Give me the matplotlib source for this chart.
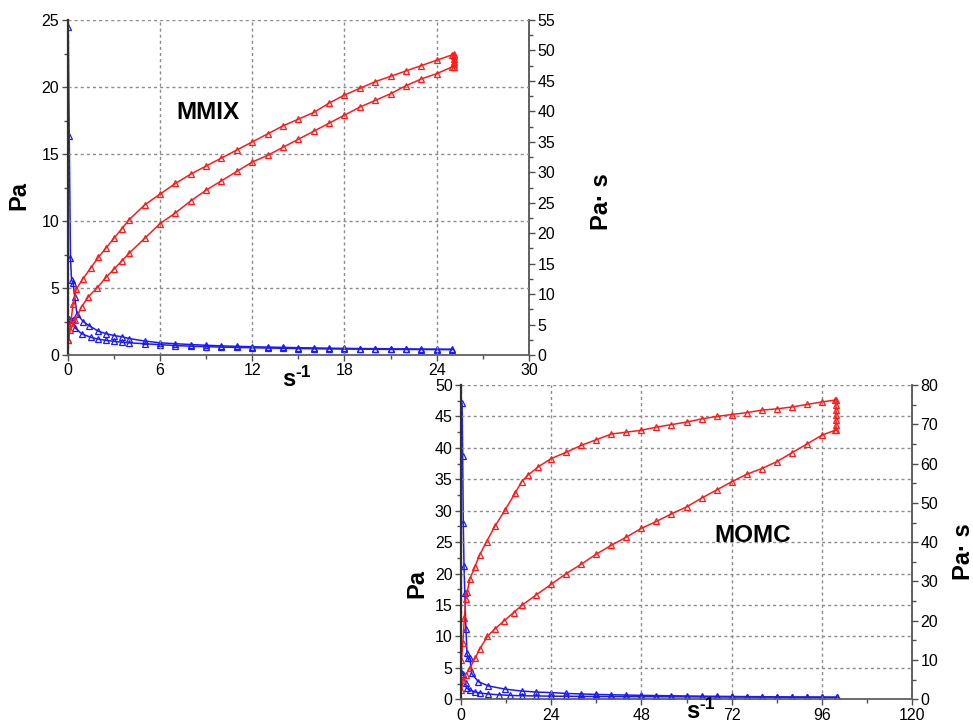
import matplotlib
matplotlib.use("Agg")
import matplotlib.pyplot as plt
from matplotlib.ticker import MultipleLocator

plt.rcParams['font.family'] = ['Liberation Sans', 'DejaVu Sans']

# ---------------- MMIX (top chart) ----------------
mmix_up_rate = [0.05, 0.2, 0.35, 0.55, 1, 1.5, 2, 2.5, 3, 3.5, 4, 5, 6, 7, 8, 9, 10, 11, 12, 13,
                14, 15, 16, 17, 18, 19, 20, 21, 22, 23, 24, 25]
mmix_up_stress = [1.1, 2.4, 3.8, 4.9, 5.7, 6.5, 7.3, 8.0, 8.7, 9.4, 10.1, 11.2, 12.0, 12.8, 13.5,
                  14.1, 14.7, 15.3, 15.9, 16.5, 17.1, 17.6, 18.1, 18.8, 19.4, 19.9, 20.4, 20.8,
                  21.2, 21.6, 22.0, 22.4]
mmix_hold_rate = [25.1, 25.1, 25.1, 25.1, 25.1, 25.1]
mmix_hold_stress = [22.5, 22.3, 22.1, 21.9, 21.7, 21.5]
mmix_down_rate = [0.05, 0.15, 0.5, 0.9, 1.35, 1.9, 2.5, 3, 3.5, 4, 5, 6, 7, 8, 9, 10, 11, 12, 13,
                  14, 15, 16, 17, 18, 19, 20, 21, 22, 23, 24, 25]
mmix_down_stress = [1.1, 1.9, 2.6, 3.6, 4.35, 5.0, 5.8, 6.4, 7.0, 7.6, 8.7, 9.8, 10.6, 11.5, 12.3,
                    13.0, 13.7, 14.4, 14.9, 15.5, 16.1, 16.7, 17.3, 17.9, 18.5, 19.0, 19.5, 20.1,
                    20.6, 21.0, 21.5]
mmix_visc_up_rate = [0.03, 0.1, 0.18, 0.25, 0.35, 0.45, 0.6, 1.0, 1.4, 2, 2.5, 3, 3.5, 4, 5, 6, 7,
                     8, 9, 10, 11, 12, 13, 14, 15, 16, 17, 18, 19, 20, 21, 22, 23, 24, 25]
mmix_visc_up = [53.9, 36, 16, 12.3, 11.9, 9.6, 6.8, 5.5, 4.8, 3.9, 3.5, 3.2, 3.0, 2.7, 2.3, 2.0,
                1.85, 1.72, 1.6, 1.5, 1.42, 1.36, 1.3, 1.25, 1.2, 1.16, 1.12, 1.09, 1.06, 1.04,
                1.02, 1.0, 0.98, 0.96, 0.95]
mmix_visc_down_rate = [0.06, 0.2, 0.37, 0.5, 0.9, 1.5, 2, 2.5, 3, 3.5, 4, 5, 6, 7, 8, 9, 10, 11,
                       12, 13, 14, 15, 16, 17, 18, 19, 20, 21, 22, 23, 24, 25]
mmix_visc_down = [5.9, 5.8, 5.7, 4.4, 3.5, 2.9, 2.6, 2.4, 2.25, 2.1, 2.0, 1.85, 1.7, 1.55, 1.45,
                  1.37, 1.3, 1.24, 1.19, 1.14, 1.1, 1.06, 1.03, 1.0, 0.98, 0.96, 0.94, 0.92, 0.91,
                  0.9, 0.89, 0.88]

# ---------------- MOMC (bottom chart) ----------------
momc_up_rate = [0.1, 0.5, 0.9, 1.3, 1.6, 2.4, 3.7, 5, 6.8, 9, 11.7, 14.4, 16.1, 17.9, 20.6, 24,
                28, 32, 36, 40, 44, 48, 52, 56, 60, 64, 68, 72, 76, 80, 84, 88, 92, 96, 99.5]
momc_up_stress = [6.2, 9.0, 13.0, 16.0, 17.0, 19.2, 21.1, 23.0, 25.1, 27.5, 30.1, 32.8, 34.6, 35.7,
                  37.0, 38.3, 39.3, 40.4, 41.3, 42.2, 42.5, 42.8, 43.3, 43.7, 44.1, 44.6, 45.0,
                  45.3, 45.6, 46.0, 46.2, 46.5, 46.9, 47.3, 47.6]
momc_hold_rate = [99.8, 99.8, 99.8, 99.8, 99.8, 99.8, 99.8]
momc_hold_stress = [47.6, 46.8, 46.0, 45.2, 44.4, 43.6, 42.8]
momc_down_rate = [0.1, 0.6, 1.2, 2.4, 3.7, 5, 7, 9, 11.5, 14, 16.3, 20, 24, 28, 32, 36, 40, 44,
                  48, 52, 56, 60, 64, 68, 72, 76, 80, 84, 88, 92, 96, 99.5]
momc_down_stress = [1.5, 3.0, 3.9, 5.0, 6.5, 8.0, 10.0, 11.2, 12.5, 13.8, 15.0, 16.6, 18.3, 20.0,
                    21.5, 23.1, 24.5, 25.8, 27.2, 28.3, 29.5, 30.6, 32.0, 33.3, 34.6, 35.8, 36.7,
                    37.8, 39.2, 40.6, 42.0, 42.8]
momc_visc_up_rate = [0.3, 0.45, 0.6, 0.8, 1.0, 1.3, 1.6, 1.8, 2.4, 2.8, 4.6, 7.3, 11.7, 16.1, 20,
                     24, 28, 32, 36, 40, 44, 48, 52, 56, 60, 64, 68, 72, 76, 80, 84, 88, 92, 96, 100]
momc_visc_up = [75.3, 62, 45, 34, 27, 18, 11.7, 10.4, 10.4, 6.6, 4.5, 3.4, 2.6, 2.1, 1.85, 1.7,
                1.5, 1.35, 1.25, 1.15, 1.08, 1.0, 0.95, 0.9, 0.85, 0.8, 0.76, 0.72, 0.69, 0.66,
                0.63, 0.6, 0.58, 0.56, 0.55]
momc_visc_down_rate = [0.05, 0.6, 1.2, 1.5, 2.5, 3.7, 5, 7.3, 10, 13, 16.1, 20, 24, 28, 32, 36,
                       40, 44, 48, 52, 56, 60, 64, 68, 72, 76, 80, 84, 88, 92, 96, 100]
momc_visc_down = [6.9, 6.5, 4.2, 2.8, 2.3, 1.9, 1.6, 1.35, 1.15, 1.0, 0.9, 0.85, 0.8, 0.77, 0.74,
                  0.72, 0.7, 0.68, 0.67, 0.65, 0.64, 0.62, 0.61, 0.6, 0.58, 0.57, 0.56, 0.55,
                  0.54, 0.53, 0.52, 0.5]

W, H = 973, 725
fig = plt.figure(figsize=(W / 100, H / 100), dpi=100)
fig.patch.set_facecolor('white')

RED = '#ff1a1a'
BLUE = '#1a1aff'
GRID = '#8c8c8c'
TICK_FS = 11.5
LAB_FS = 17


def px_rect(x0, y0, x1, y1):
    return [x0 / W, 1 - y1 / H, (x1 - x0) / W, (y1 - y0) / H]


def fxy(x, y):
    return x / W, 1 - y / H


def setup(ax, axr, xmax, xstep, ymax, ystep, rmax, rstep):
    ax.set_xlim(0, xmax)
    ax.set_ylim(0, ymax)
    axr.set_ylim(0, rmax)
    ax.xaxis.set_major_locator(MultipleLocator(xstep))
    ax.xaxis.set_minor_locator(MultipleLocator(xstep / 2))
    ax.yaxis.set_major_locator(MultipleLocator(ystep))
    ax.yaxis.set_minor_locator(MultipleLocator(ystep / 2))
    axr.yaxis.set_major_locator(MultipleLocator(rstep))
    axr.yaxis.set_minor_locator(MultipleLocator(rstep / 2))
    ax.grid(True, which='major', color=GRID, linestyle=(0, (2.2, 2.2)), linewidth=1.0)
    ax.set_axisbelow(True)
    for a in (ax, axr):
        a.spines['top'].set_visible(False)
    ax.spines['right'].set_visible(False)
    ax.spines['left'].set_color('#303030')
    ax.spines['left'].set_linewidth(1.6)
    ax.spines['bottom'].set_color('#606060')
    ax.spines['bottom'].set_linewidth(1.3)
    axr.spines['left'].set_visible(False)
    axr.spines['bottom'].set_visible(False)
    axr.spines['right'].set_color('#505050')
    axr.spines['right'].set_linewidth(1.3)
    ax.tick_params(axis='both', which='major', direction='out', length=4, width=1,
                   color='#505050', labelsize=TICK_FS, pad=2)
    ax.tick_params(axis='both', which='minor', direction='out', length=3, width=1,
                   color='#505050')
    axr.tick_params(axis='y', which='major', direction='out', length=4, width=1,
                    color='#505050', labelsize=TICK_FS, pad=2)
    axr.tick_params(axis='y', which='minor', direction='out', length=3, width=1,
                    color='#505050')
    ax.set_facecolor('none')


mk = dict(marker='^', markersize=4.8, fillstyle='none', markeredgewidth=0.9, linewidth=1.1)

# ---- top chart
ax1 = fig.add_axes(px_rect(67.7, 20, 529, 355))
ax1r = ax1.twinx()
setup(ax1, ax1r, 30, 6, 25, 5, 55, 5)
ax1r.plot(mmix_visc_up_rate, mmix_visc_up, color=BLUE, **mk)
ax1r.plot(mmix_visc_down_rate, mmix_visc_down, color=BLUE, **mk)
ax1.plot(mmix_up_rate, mmix_up_stress, color=RED, **mk)
ax1.plot(mmix_hold_rate, mmix_hold_stress, color=RED, **mk)
ax1.plot(mmix_down_rate, mmix_down_stress, color=RED, **mk)
ax1.set_zorder(ax1r.get_zorder() + 1)
ax1.text(9.15, 18.1, 'MMIX', fontsize=17.5, fontweight='bold', ha='center', va='center')

# ---- bottom chart
ax2 = fig.add_axes(px_rect(461, 385, 912, 699.3))
ax2r = ax2.twinx()
setup(ax2, ax2r, 120, 24, 50, 5, 80, 10)
ax2r.plot(momc_visc_up_rate, momc_visc_up, color=BLUE, **mk)
ax2r.plot(momc_visc_down_rate, momc_visc_down, color=BLUE, **mk)
ax2.plot(momc_up_rate, momc_up_stress, color=RED, **mk)
ax2.plot(momc_hold_rate, momc_hold_stress, color=RED, **mk)
ax2.plot(momc_down_rate, momc_down_stress, color=RED, **mk)
ax2.set_zorder(ax2r.get_zorder() + 1)
ax2.text(77.7, 26.1, 'MOMC', fontsize=17.5, fontweight='bold', ha='center', va='center')


# ---- axis titles (placed in figure pixels)
def lab(x, y, s, rot=0, **kw):
    fig.text(*fxy(x, y), s, fontsize=LAB_FS, fontweight='bold', rotation=rot,
             ha='center', va='center', **kw)


lab(19, 195, 'Pa', rot=90)
lab(601, 202, 'Pa· s', rot=90)
lab(417, 583, 'Pa', rot=90)
lab(963, 552, 'Pa· s', rot=90)


def s_inv(x, ybase):
    fig.text(*fxy(x, ybase), 's', fontsize=LAB_FS, fontweight='bold', ha='left', va='baseline')
    fig.text(*fxy(x + 13.5, ybase - 9), '-1', fontsize=12.5, fontweight='bold',
             ha='left', va='baseline')


s_inv(282, 386)
s_inv(686, 718)

fig.savefig('out.png', dpi=100, facecolor='white')
